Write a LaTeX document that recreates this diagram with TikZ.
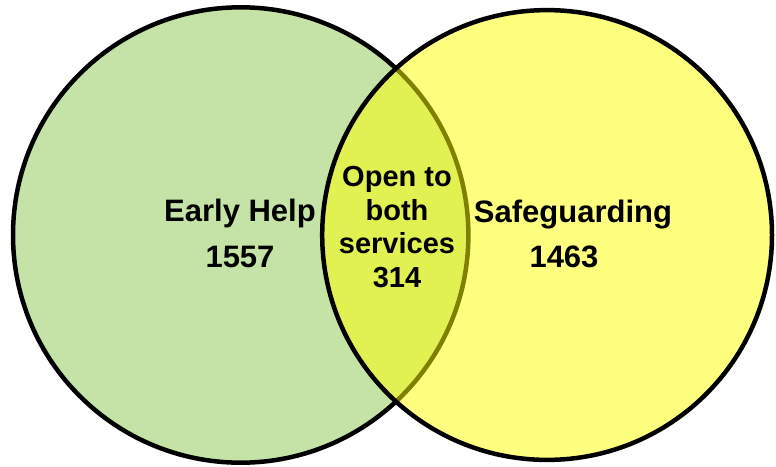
\documentclass[tikz,border=0pt]{standalone}
\usepackage{fontspec}
\setmainfont{Liberation Sans}
\definecolor{ehgreen}{RGB}{197,227,166}
\definecolor{sgyellow}{RGB}{255,255,0}
\begin{document}
\begin{tikzpicture}[x=1pt,y=-1pt,
  setcircle/.style={line width=4.5pt, draw=black},
  biglabel/.style={font=\fontsize{31}{31}\selectfont\bfseries, inner sep=0pt, anchor=base},
  midlabel/.style={font=\fontsize{29}{29}\selectfont\bfseries, inner sep=0pt, anchor=base}]
\useasboundingbox (0,0) rectangle (776,466);
\path[setcircle, fill=ehgreen] (240.7,235) circle[radius=227.7];
\path[setcircle, fill=sgyellow, fill opacity=0.5] (547.1,235) circle[radius=224.9];
\node[biglabel] (eh) at (240,221) {Early Help};
\node[biglabel] (ehn) at (240,267) {1557};
\node[biglabel] (sg) at (573,222) {Safeguarding};
\node[biglabel] (sgn) at (564,267) {1463};
\node[midlabel] (m1) at (397,186) {Open to};
\node[midlabel] (m2) at (397,220) {both};
\node[midlabel] (m3) at (397,253) {services};
\node[midlabel] (m4) at (397,287) {314};
\end{tikzpicture}
\end{document}
